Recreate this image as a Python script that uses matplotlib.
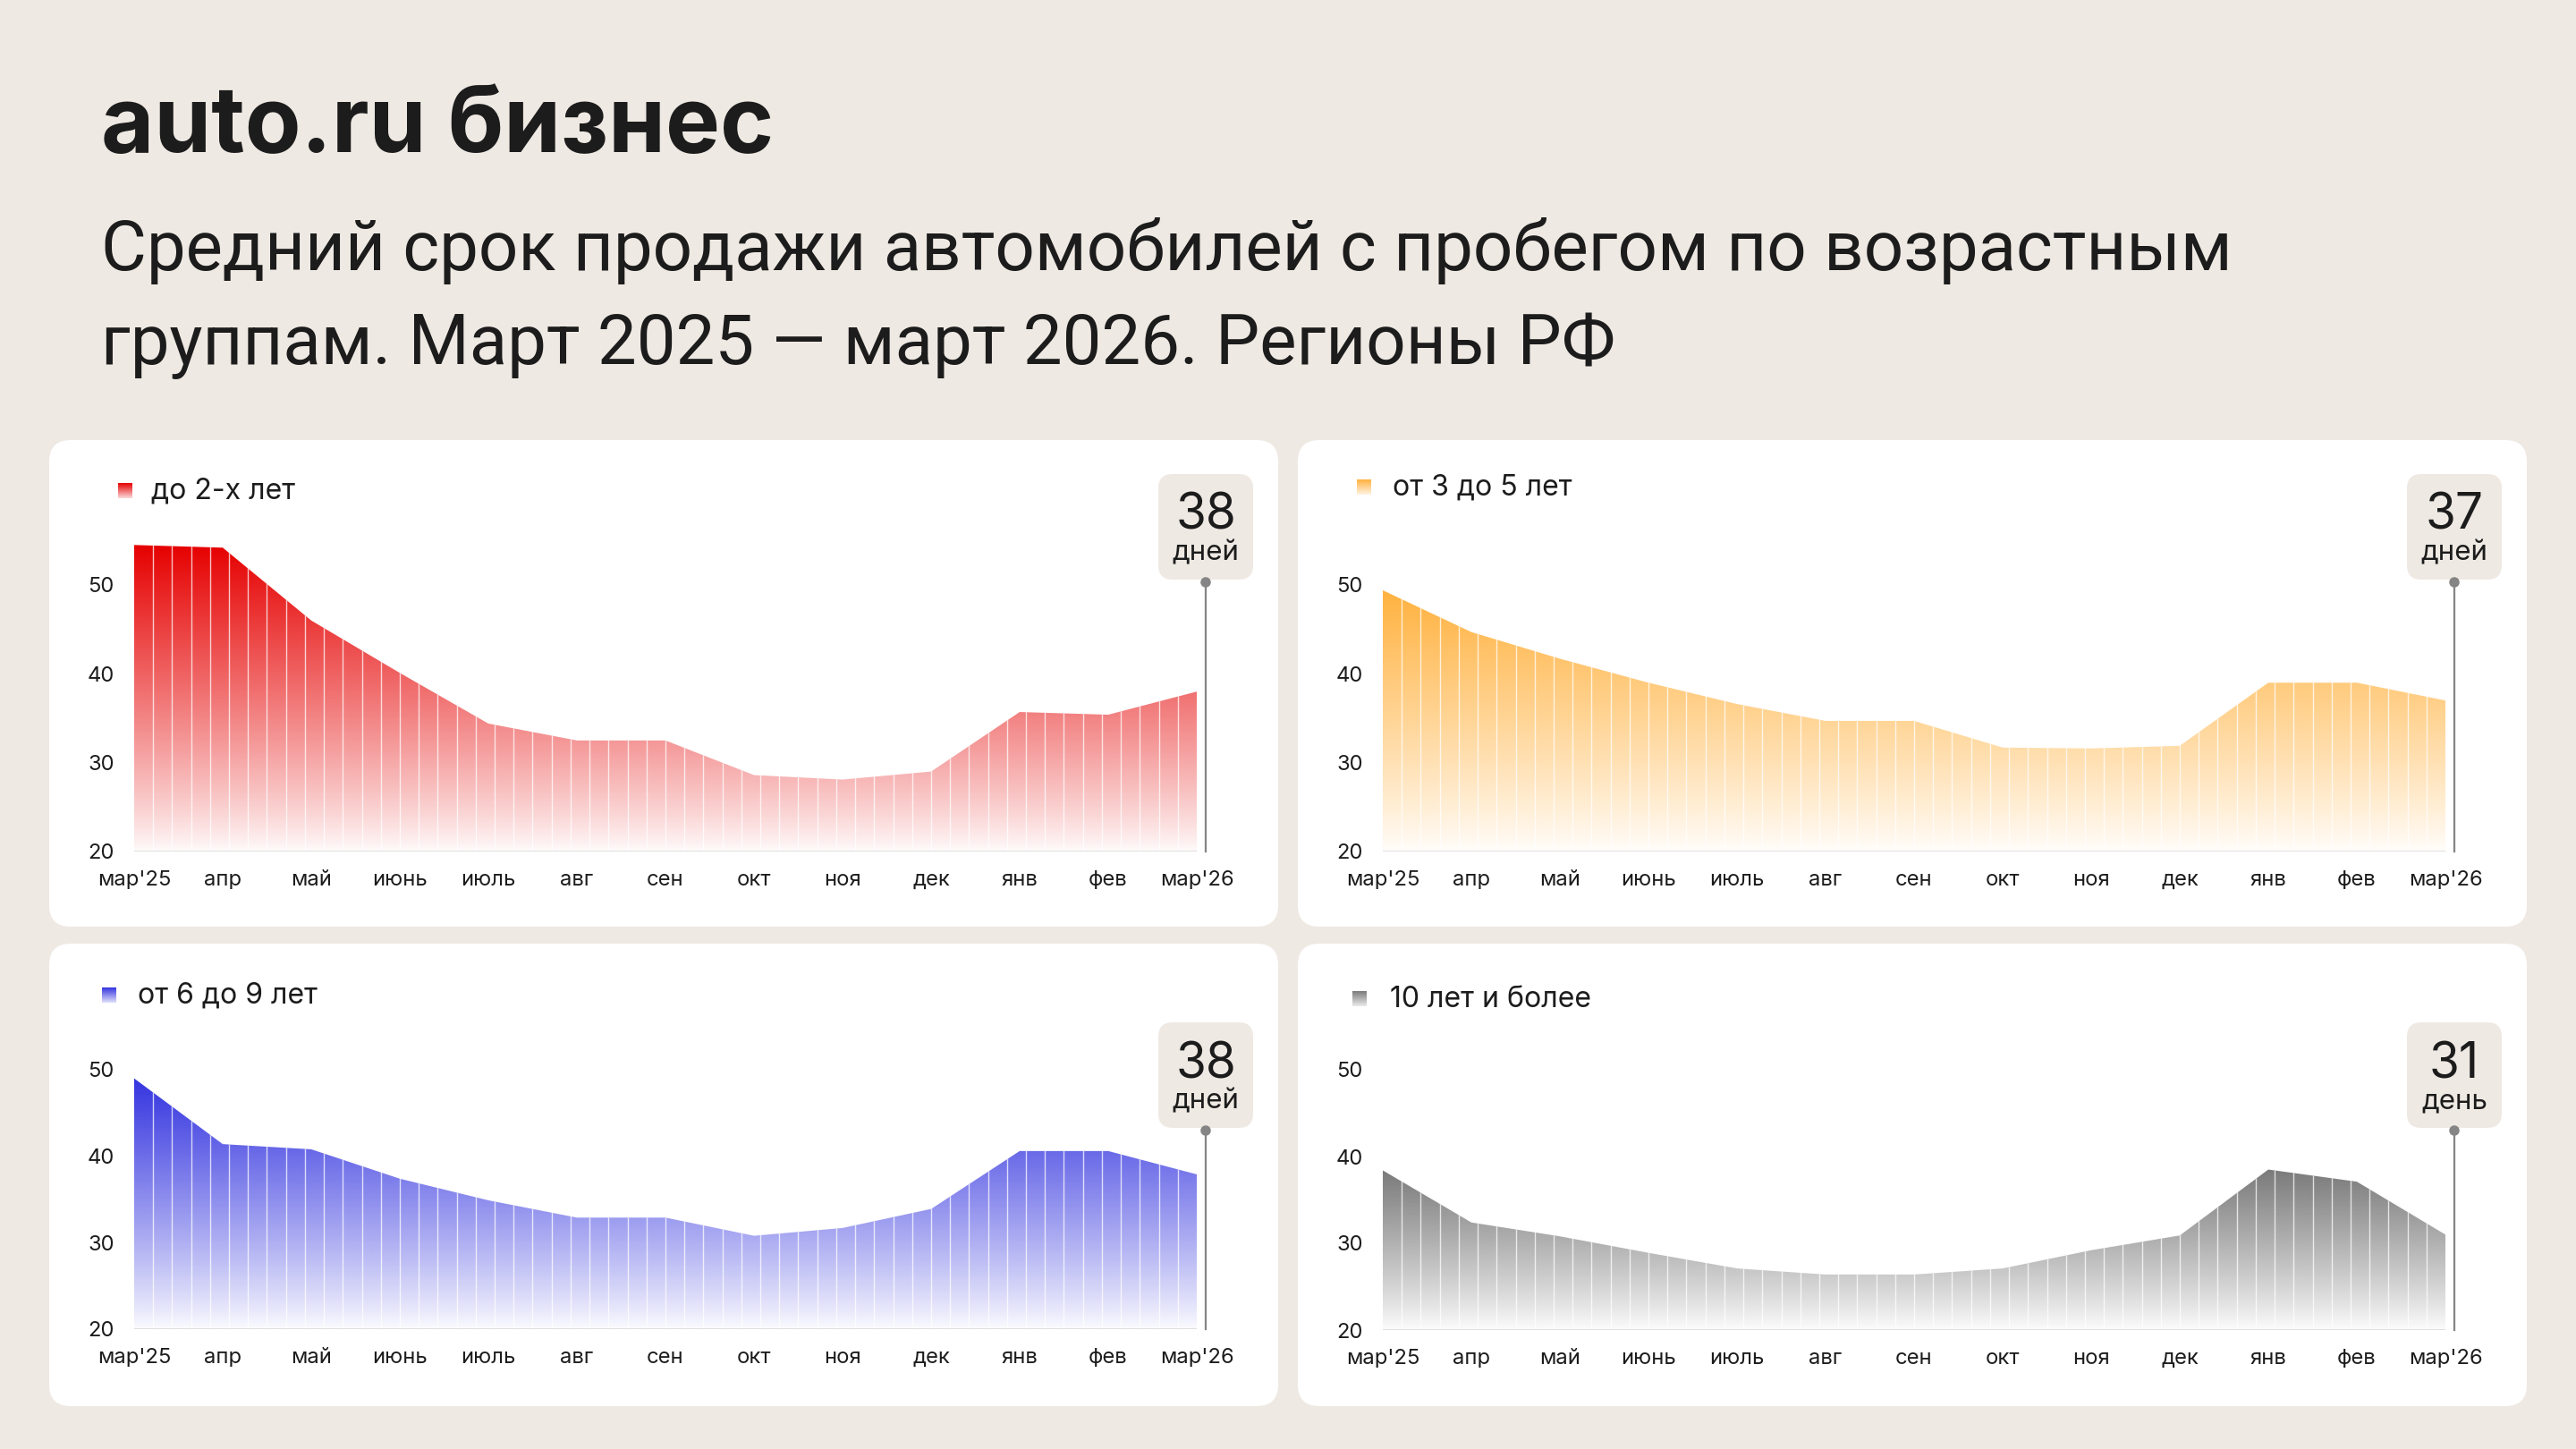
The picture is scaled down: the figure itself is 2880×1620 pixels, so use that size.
import numpy as np
import matplotlib
matplotlib.use("Agg")
import matplotlib.pyplot as plt
from matplotlib.patches import FancyBboxPatch, Polygon, Circle

plt.rcParams["font.family"] = ["Inter", "DejaVu Sans"]

# ---- data -------------------------------------------------------------
months = ["мар'25", "апр", "май", "июнь", "июль", "авг", "сен",
          "окт", "ноя", "дек", "янв", "фев", "мар'26"]

groups = ["до 2-х лет", "от 3 до 5 лет", "от 6 до 9 лет", "10 лет и более"]

days_0_2 = [54.5, 54.2, 46.0, 40.1, 34.4, 32.5, 32.5, 28.6, 28.1, 29.0, 35.7, 35.4, 38.0]
days_3_5 = [49.4, 44.7, 41.7, 39.0, 36.6, 34.7, 34.7, 31.7, 31.6, 31.9, 39.0, 39.0, 37.0]
days_6_9 = [49.0, 41.4, 40.8, 37.4, 34.9, 32.9, 32.9, 30.8, 31.7, 33.9, 40.6, 40.6, 37.9]
days_10p = [38.4, 32.4, 30.8, 28.9, 27.1, 26.4, 26.4, 27.1, 29.2, 30.9, 38.5, 37.1, 31.0]

badge_units = ["дней", "дней", "дней", "день"]

series = [days_0_2, days_3_5, days_6_9, days_10p]
colors = ["#e60000", "#ffb23f", "#3434e0", "#7a7a7a"]

# ---- layout (pixels) ----------------------------------------------------
W, H = 2880, 1620
BG = "#efe9e3"
TXT = "#1c1c1c"

fig = plt.figure(figsize=(16, 9), dpi=180, facecolor=BG)

bg = fig.add_axes([0, 0, 1, 1], zorder=0)
bg.set_xlim(0, W)
bg.set_ylim(H, 0)
bg.axis("off")

fg = fig.add_axes([0, 0, 1, 1], zorder=3)
fg.set_xlim(0, W)
fg.set_ylim(H, 0)
fg.axis("off")
fg.patch.set_alpha(0)

# panel boxes: (x0, y0, x1, y1)
panels = [(55, 492, 1429, 1036), (1451, 492, 2825, 1036),
          (55, 1055, 1429, 1572), (1451, 1055, 2825, 1572)]
# plot areas: (left, right, y at 20, y at 50)
plots = [(150, 1338, 952, 654), (1546, 2734, 952, 654),
         (150, 1338, 1486, 1196), (1546, 2734, 1487, 1196)]
legend_pos = [(132, 540, 169, 549), (1517, 536, 1557, 545),
              (114, 1104, 154, 1113), (1512, 1108, 1554, 1117)]
badge_top = [530, 530, 1143, 1143]

fg.text(113, 170, "auto.ru бизнес", fontsize=41, fontweight="bold",
        color=TXT, va="baseline", ha="left")
fg.text(113, 302, "Средний срок продажи автомобилей с пробегом по возрастным",
        fontsize=31.2, color=TXT, va="baseline", ha="left", family=["Roboto", "DejaVu Sans"])
fg.text(113, 407, "группам. Март 2025 — март 2026. Регионы РФ",
        fontsize=31.2, color=TXT, va="baseline", ha="left", family=["Roboto", "DejaVu Sans"])


def gradient_rgba(color, n=256, gamma=0.9, lo=0.02):
    rgb = np.array(matplotlib.colors.to_rgb(color))
    t = np.linspace(1, 0, n) ** gamma
    a = lo + (1 - lo) * t
    img = np.zeros((n, 1, 4))
    img[:, 0, :3] = rgb
    img[:, 0, 3] = a
    return img


x = np.arange(len(months))

for i, vals in enumerate(series):
    px0, py0, px1, py1 = panels[i]
    bg.add_patch(FancyBboxPatch((px0, py0), px1 - px0, py1 - py0,
                                boxstyle="round,pad=0,rounding_size=24",
                                facecolor="white", edgecolor="none"))

    left, right, y20, y50 = plots[i]
    unit = (y20 - y50) / 30.0
    ytop = y20 - 40 * unit  # value 60
    ax = fig.add_axes([left / W, 1 - y20 / H, (right - left) / W, (y20 - ytop) / H],
                      zorder=1)
    ax.patch.set_alpha(0)
    ax.set_xlim(0, len(months) - 1)
    ax.set_ylim(20, 60)
    for s in ax.spines.values():
        s.set_visible(False)

    vals = np.array(vals)
    verts = [(0, 20)] + list(zip(x, vals)) + [(x[-1], 20)]
    clip = Polygon(verts, closed=True, facecolor="none", edgecolor="none")
    ax.add_patch(clip)

    im = ax.imshow(gradient_rgba(colors[i]), extent=[0, x[-1], 20, vals.max()],
                   aspect="auto", origin="upper", interpolation="bilinear", zorder=2)
    im.set_clip_path(clip)

    stripes = np.linspace(0, x[-1], 57)[1:-1]
    lc = ax.vlines(stripes, 20, 60, colors="white", linewidth=0.55, alpha=0.75, zorder=3)
    lc.set_clip_path(clip)

    ax.axhline(20, color="#dcdcdc", linewidth=1.1, zorder=4)

    ax.set_yticks([20, 30, 40, 50])
    ax.set_yticklabels(["20", "30", "40", "50"])
    ax.set_xticks(x)
    ax.set_xticklabels(months)
    ax.tick_params(axis="both", length=0, labelsize=9.5, labelcolor=TXT)
    ax.tick_params(axis="y", pad=9)
    ax.tick_params(axis="x", pad=8.5)

    # legend swatch + label
    sx, sy, tx, ty = legend_pos[i]
    fg.imshow(gradient_rgba(colors[i], gamma=1.0, lo=0.15),
              extent=[sx, sx + 16, sy + 17, sy], aspect="auto",
              origin="upper", zorder=2)
    fg.text(tx, ty, groups[i], fontsize=12.8, color=TXT, va="center", ha="left")

    # badge with last value
    lx = right + 10
    bt = badge_top[i]
    fg.add_patch(FancyBboxPatch((lx - 53, bt), 106, 118,
                                boxstyle="round,pad=0,rounding_size=16",
                                facecolor=BG, edgecolor="none", zorder=2))
    fg.text(lx, bt + 47, f"{round(vals[-1])}", fontsize=22, color=TXT,
            ha="center", va="center", zorder=3)
    fg.text(lx, bt + 88, badge_units[i], fontsize=12.5, color=TXT,
            ha="center", va="center", zorder=3)
    fg.plot([lx, lx], [bt + 121, y20], color="#858585", linewidth=0.9, zorder=3)
    fg.add_patch(Circle((lx, bt + 121), 4.5, color="#858585", zorder=4))

fig.savefig("out.png", dpi=180, facecolor=BG)
